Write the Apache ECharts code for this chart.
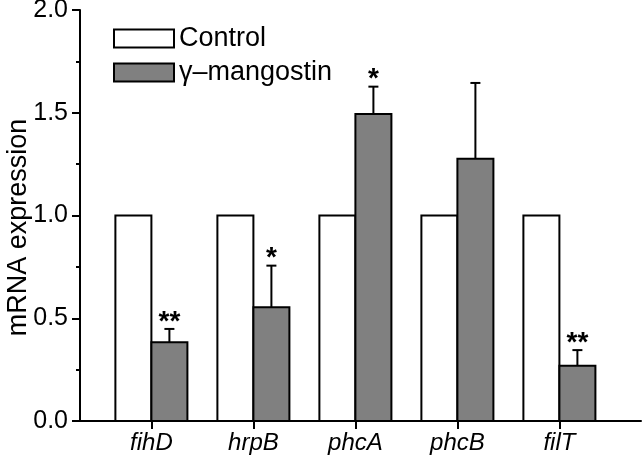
<!DOCTYPE html>
<html>
<head>
<meta charset="utf-8">
<script src="https://cdn.jsdelivr.net/npm/echarts@6/dist/echarts.min.js"></script>
<style>
html,body{margin:0;padding:0;background:#fff;}
#chart{width:643px;height:462px;}
</style>
</head>
<body>
<div id="chart"></div>
<script>
// ---- data ----
const categories = ['fihD', 'hrpB', 'phcA', 'phcB', 'filT'];
const controlValues = [1.0, 1.0, 1.0, 1.0, 1.0];
const mangostinValues = [0.383, 0.553, 1.494, 1.276, 0.269];
const mangostinUpper = [0.448, 0.756, 1.627, 1.645, 0.345];
const significance = ['**', '*', '*', '', '**'];
const yTicks = [0, 0.5, 1.0, 1.5, 2.0];
const seriesNames = ['Control', '\u03b3\u2013mangostin'];

const FONT = '"Liberation Sans", Arial, sans-serif';
const BAR_W = 0.353; // bar width in x-axis units

const positions = categories.map((c, i) => i + 1);
const controlData = positions.map((p, i) => [p, controlValues[i]]);
const mangData = positions.map((p, i) => [p, mangostinValues[i], mangostinUpper[i], i]);

function barRender(side, fill) {
  return function (params, api) {
    const x = api.value(0), y = api.value(1);
    const base = api.coord([x, 0]);
    const top = api.coord([x, y]);
    const w = api.size([BAR_W, 0])[0];
    const left = side < 0 ? base[0] - w : base[0];
    const children = [{
      type: 'rect',
      shape: { x: left, y: top[1], width: w, height: base[1] - top[1] },
      style: { fill: fill, stroke: '#000', lineWidth: 2 }
    }];
    if (side > 0) {
      const up = api.coord([x, api.value(2)]);
      const cx = left + w / 2;
      children.push({
        type: 'line',
        shape: { x1: cx, y1: top[1], x2: cx, y2: up[1] },
        style: { stroke: '#000', lineWidth: 2 }
      });
      children.push({
        type: 'line',
        shape: { x1: cx - 5, y1: up[1], x2: cx + 5, y2: up[1] },
        style: { stroke: '#000', lineWidth: 2 }
      });
      const s = significance[api.value(3)];
      if (s) {
        children.push({
          type: 'text',
          style: {
            text: s, x: cx, y: up[1] + 7,
            align: 'center', verticalAlign: 'bottom',
            font: 'bold 28px ' + FONT, fill: '#000'
          }
        });
      }
    }
    return { type: 'group', children: children };
  };
}

const chart = echarts.init(document.getElementById('chart'), null, { renderer: 'canvas' });
chart.setOption({
  animation: false,
  backgroundColor: '#fff',
  grid: { left: 80, right: 2, top: 10, bottom: 41, containLabel: false, outerBoundsMode: 'none' },
  legend: {
    orient: 'vertical',
    left: 108, top: 20,
    itemWidth: 60, itemHeight: 18, itemGap: 7,
    icon: 'rect',
    textStyle: { fontFamily: FONT, fontSize: 27, lineHeight: 18, color: '#000' },
    data: [
      { name: seriesNames[0], itemStyle: { color: '#fff', borderColor: '#000', borderWidth: 2 } },
      { name: seriesNames[1], itemStyle: { color: '#808080', borderColor: '#000', borderWidth: 2 } }
    ]
  },
  xAxis: {
    type: 'value', min: 0.3, max: 5.8,
    axisLine: { show: true, lineStyle: { color: '#000', width: 2 } },
    axisTick: { show: true, length: 8, lineStyle: { color: '#000', width: 2 }, customValues: positions },
    axisLabel: {
      customValues: positions,
      formatter: v => categories[Math.round(v) - 1] || '',
      fontFamily: FONT, fontSize: 24, fontStyle: 'italic', color: '#000', margin: 10
    },
    splitLine: { show: false }
  },
  yAxis: {
    type: 'value', min: yTicks[0], max: yTicks[yTicks.length - 1], interval: 0.5,
    name: 'mRNA expression', nameLocation: 'middle', nameGap: 48, nameMoveOverlap: false,
    nameTextStyle: { fontFamily: FONT, fontSize: 27, color: '#000', padding: [0, 24, 0, 0] },
    axisLine: { show: true, lineStyle: { color: '#000', width: 2 } },
    axisTick: { show: true, length: 8, lineStyle: { color: '#000', width: 2 } },
    minorTick: { show: true, splitNumber: 2, length: 4, lineStyle: { color: '#000', width: 2 } },
    axisLabel: { formatter: v => v.toFixed(1), fontFamily: FONT, fontSize: 25, color: '#000', margin: 12 },
    splitLine: { show: false }
  },
  series: [
    {
      name: seriesNames[0], type: 'custom', renderItem: barRender(-1, '#fff'),
      itemStyle: { color: '#fff', borderColor: '#000', borderWidth: 2 },
      encode: { x: 0, y: 1 }, data: controlData, clip: false
    },
    {
      name: seriesNames[1], type: 'custom', renderItem: barRender(1, '#808080'),
      itemStyle: { color: '#808080', borderColor: '#000', borderWidth: 2 },
      encode: { x: 0, y: [1, 2] }, data: mangData, clip: false
    }
  ]
});
</script>
</body>
</html>
